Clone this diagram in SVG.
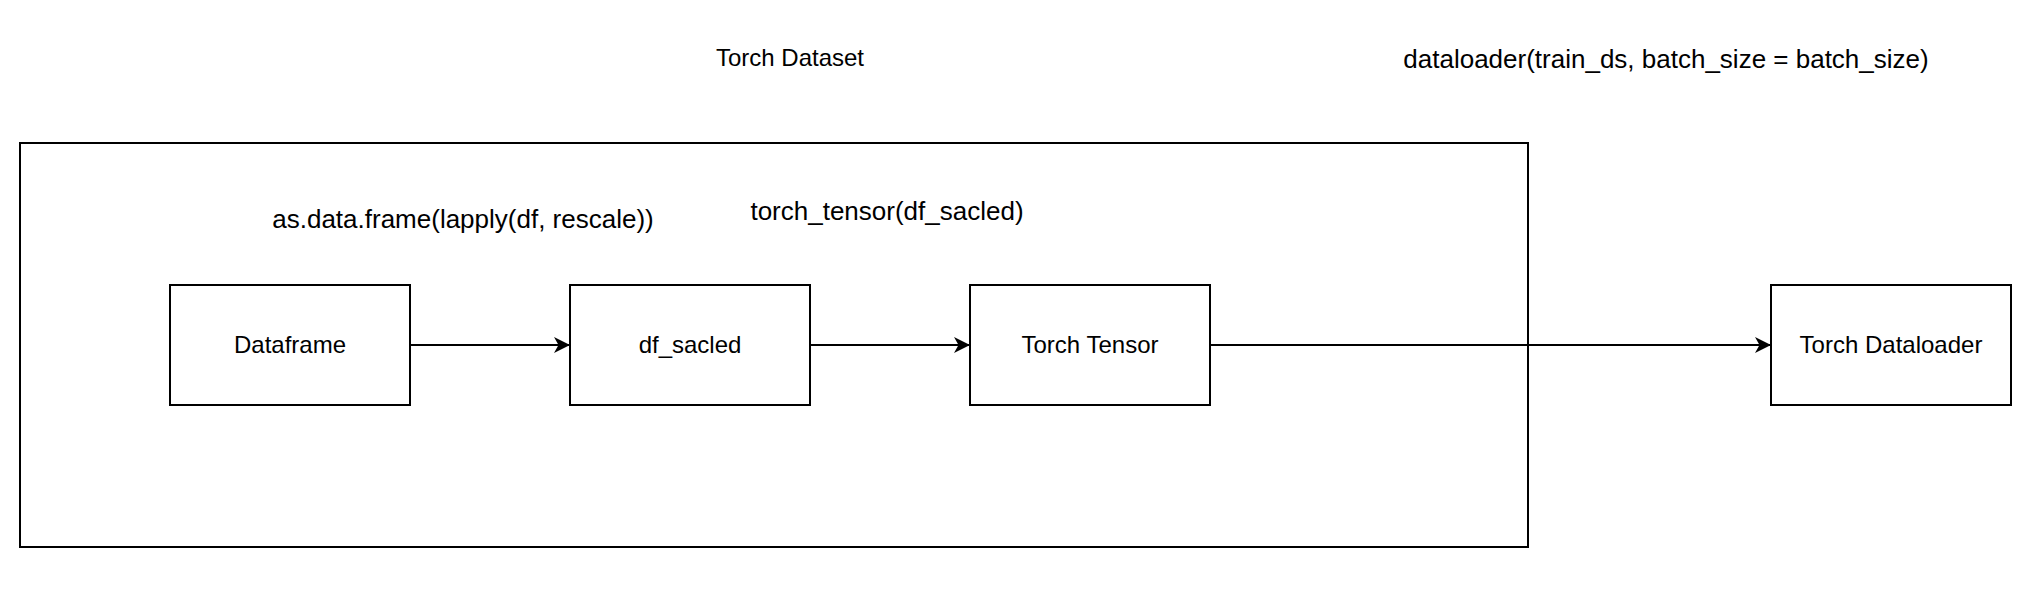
<svg xmlns="http://www.w3.org/2000/svg" width="2042" height="592" viewBox="0 0 2042 592">
<style>
  .box { fill: #ffffff; stroke: #000000; stroke-width: 2; }
  .frame { fill: none; stroke: #000000; stroke-width: 2; }
  .lbl { font-family: "Liberation Sans", Arial, Helvetica, sans-serif; font-size: 24px; fill: #000000; text-anchor: middle; }
  .note { font-family: "Liberation Sans", Arial, Helvetica, sans-serif; font-size: 26px; fill: #000000; text-anchor: middle; }
  .edge { fill: none; stroke: #000000; stroke-width: 2; }
</style>
<defs>
  <marker id="arrow" markerUnits="userSpaceOnUse" markerWidth="18" markerHeight="18" refX="16" refY="8" orient="auto" viewBox="0 0 18 16">
    <path d="M0,0 L16,8 L0,16 L4.5,8 Z" fill="#000000" stroke="none"/>
  </marker>
</defs>
<rect width="2042" height="592" fill="#ffffff"/>

<g id="torch-dataset">
  <rect class="frame" x="20" y="143" width="1508" height="404"/>
  <text class="lbl" x="790" y="66">Torch Dataset</text>
</g>

<g id="annotations">
  <text class="note" x="463" y="228">as.data.frame(lapply(df, rescale))</text>
  <text class="note" x="887" y="220">torch_tensor(df_sacled)</text>
  <text class="note" x="1666" y="68">dataloader(train_ds, batch_size = batch_size)</text>
</g>

<g id="connectors">
  <line class="edge" x1="410" y1="345" x2="570" y2="345" marker-end="url(#arrow)"/>
  <line class="edge" x1="810" y1="345" x2="970" y2="345" marker-end="url(#arrow)"/>
  <line class="edge" x1="1210" y1="345" x2="1771" y2="345" marker-end="url(#arrow)"/>
</g>

<g id="dataframe">
  <rect class="box" x="170" y="285" width="240" height="120"/>
  <text class="lbl" x="290" y="353">Dataframe</text>
</g>
<g id="df-sacled">
  <rect class="box" x="570" y="285" width="240" height="120"/>
  <text class="lbl" x="690" y="353">df_sacled</text>
</g>
<g id="torch-tensor">
  <rect class="box" x="970" y="285" width="240" height="120"/>
  <text class="lbl" x="1090" y="353">Torch Tensor</text>
</g>
<g id="torch-dataloader">
  <rect class="box" x="1771" y="285" width="240" height="120"/>
  <text class="lbl" x="1891" y="353">Torch Dataloader</text>
</g>
</svg>
